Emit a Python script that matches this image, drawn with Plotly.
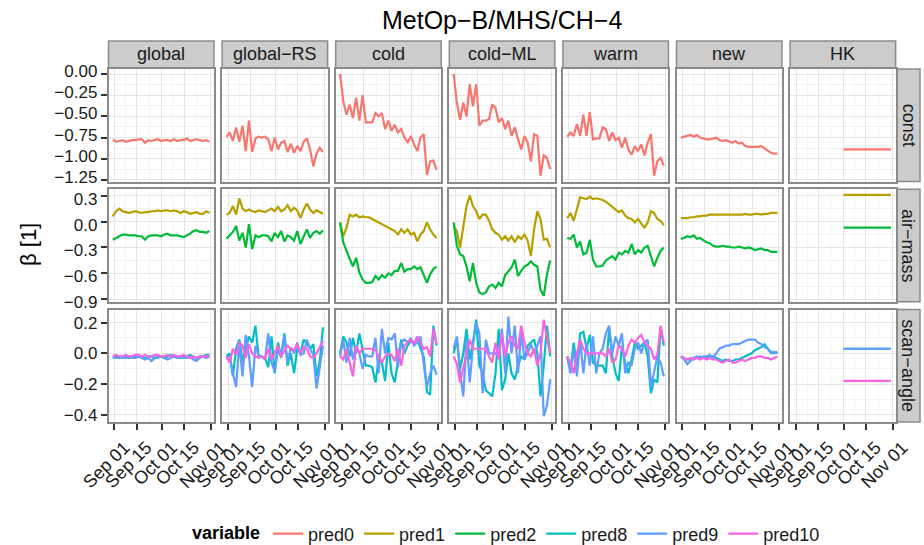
import plotly.graph_objects as go
import pandas as pd

W, H = 924, 545

# ---------------- data ----------------
facets = ["global", "global−RS", "cold", "cold−ML", "warm", "new", "HK"]
groups = ["const", "air−mass", "scan−angle"]
group_preds = [["pred0"], ["pred1", "pred2"], ["pred8", "pred9", "pred10"]]
preds = ["pred0", "pred1", "pred2", "pred8", "pred9", "pred10"]
pred_colors = ["#F8766D", "#B79F00", "#00BA38", "#00BFC4", "#619CFF", "#F564E3"]

dates = pd.date_range("2013-08-31", "2013-10-31", periods=31)
hk_dates = pd.to_datetime(["2013-10-01", "2013-10-31"])

# const (pred0)
global_pred0 = [-0.77, -0.80, -0.79, -0.78, -0.80, -0.79, -0.78, -0.78, -0.77, -0.77, -0.81, -0.78, -0.79, -0.78, -0.77, -0.79,
                -0.78, -0.78, -0.79, -0.77, -0.79, -0.78, -0.78, -0.76, -0.79, -0.78, -0.77, -0.78, -0.79, -0.78, -0.80]
globalRS_pred0 = [-0.74, -0.69, -0.79, -0.63, -0.80, -0.61, -0.91, -0.55, -0.92, -0.76, -0.74, -0.75, -0.74, -0.77, -0.91, -0.75,
                  -0.89, -0.81, -0.79, -0.92, -0.82, -0.93, -0.85, -0.91, -0.80, -0.76, -0.89, -1.09, -0.94, -0.87, -0.92]
cold_pred0 = [0.00, -0.32, -0.48, -0.36, -0.52, -0.28, -0.55, -0.25, -0.57, -0.57, -0.57, -0.46, -0.50, -0.46, -0.65, -0.55,
              -0.67, -0.60, -0.69, -0.65, -0.75, -0.81, -0.73, -0.83, -0.91, -0.75, -0.71, -1.19, -1.03, -1.02, -1.13]
coldML_pred0 = [0.00, -0.34, -0.54, -0.34, -0.50, -0.12, -0.38, -0.12, -0.61, -0.55, -0.55, -0.53, -0.36, -0.40, -0.57, -0.52,
                -0.65, -0.55, -0.73, -0.63, -0.77, -0.89, -0.73, -0.81, -1.03, -0.71, -0.73, -1.20, -0.96, -0.99, -1.12]
warm_pred0 = [-0.74, -0.69, -0.73, -0.59, -0.73, -0.48, -0.73, -0.45, -0.77, -0.76, -0.76, -0.63, -0.65, -0.79, -0.69, -0.78,
              -0.75, -0.87, -0.75, -0.89, -0.95, -0.85, -0.91, -0.83, -0.96, -0.81, -0.71, -1.20, -1.03, -0.99, -1.08]
new_pred0 = [-0.75, -0.74, -0.73, -0.72, -0.74, -0.72, -0.75, -0.76, -0.77, -0.77, -0.76, -0.75, -0.78, -0.79, -0.78, -0.80,
             -0.81, -0.79, -0.82, -0.81, -0.85, -0.86, -0.86, -0.86, -0.86, -0.85, -0.88, -0.90, -0.93, -0.94, -0.94]
hk_pred0 = [-0.89, -0.89]

# air-mass (pred1, pred2)
global_pred1 = [0.06, 0.12, 0.15, 0.12, 0.11, 0.10, 0.11, 0.12, 0.11, 0.10, 0.11, 0.11, 0.12, 0.12, 0.13, 0.12,
                0.13, 0.13, 0.12, 0.13, 0.12, 0.10, 0.12, 0.11, 0.09, 0.10, 0.11, 0.09, 0.09, 0.12, 0.10]
global_pred2 = [-0.21, -0.19, -0.17, -0.15, -0.15, -0.16, -0.16, -0.16, -0.17, -0.17, -0.21, -0.17, -0.16, -0.16, -0.16, -0.17,
                -0.15, -0.14, -0.16, -0.16, -0.16, -0.17, -0.18, -0.16, -0.14, -0.11, -0.10, -0.12, -0.12, -0.13, -0.11]
globalRS_pred1 = [0.08, 0.10, 0.18, 0.08, 0.27, 0.15, 0.12, 0.14, 0.12, 0.11, 0.13, 0.12, 0.11, 0.13, 0.15, 0.12,
                  0.17, 0.12, 0.14, 0.19, 0.12, 0.16, 0.13, 0.04, 0.14, 0.21, 0.14, 0.10, 0.13, 0.11, 0.09]
globalRS_pred2 = [-0.20, -0.16, -0.12, -0.05, -0.22, -0.13, -0.30, -0.03, -0.32, -0.16, -0.18, -0.16, -0.16, -0.17, -0.23, -0.13,
                  -0.18, -0.11, -0.23, -0.16, -0.18, -0.22, -0.11, -0.26, -0.18, -0.09, -0.19, -0.13, -0.11, -0.14, -0.10]
cold_pred1 = [-0.01, -0.17, -0.07, 0.08, 0.06, 0.08, 0.05, 0.06, 0.05, 0.05, 0.03, 0.01, -0.01, -0.03, -0.05, -0.07,
              -0.09, -0.11, -0.15, -0.09, -0.13, -0.09, -0.15, -0.13, -0.23, -0.15, -0.11, -0.01, -0.09, -0.15, -0.19]
cold_pred2 = [-0.01, -0.24, -0.34, -0.44, -0.52, -0.42, -0.59, -0.67, -0.71, -0.71, -0.70, -0.63, -0.67, -0.62, -0.65, -0.60,
              -0.62, -0.57, -0.57, -0.48, -0.58, -0.55, -0.55, -0.52, -0.55, -0.53, -0.62, -0.71, -0.61, -0.55, -0.52]
coldML_pred1 = [-0.05, -0.11, -0.30, -0.03, 0.18, 0.30, 0.18, 0.12, 0.03, 0.08, 0.08, 0.01, -0.09, -0.13, -0.15, -0.21,
                -0.17, -0.22, -0.17, -0.24, -0.17, -0.20, -0.15, -0.22, -0.40, -0.09, 0.12, 0.03, -0.21, -0.20, -0.30]
coldML_pred2 = [-0.01, -0.28, -0.38, -0.40, -0.52, -0.69, -0.48, -0.71, -0.82, -0.84, -0.82, -0.75, -0.73, -0.77, -0.71, -0.75,
                -0.62, -0.57, -0.53, -0.44, -0.63, -0.57, -0.52, -0.50, -0.46, -0.50, -0.52, -0.79, -0.86, -0.61, -0.45]
warm_pred1 = [0.04, 0.10, 0.01, 0.14, 0.28, 0.27, 0.26, 0.29, 0.26, 0.27, 0.26, 0.25, 0.23, 0.20, 0.17, 0.14,
              0.11, 0.13, 0.07, 0.04, 0.03, -0.01, 0.03, -0.02, -0.07, -0.01, 0.12, 0.10, 0.03, 0.01, -0.04]
warm_pred2 = [-0.19, -0.20, -0.15, -0.30, -0.23, -0.38, -0.36, -0.21, -0.44, -0.52, -0.52, -0.51, -0.45, -0.42, -0.40, -0.44,
              -0.36, -0.38, -0.34, -0.36, -0.26, -0.38, -0.33, -0.36, -0.30, -0.28, -0.40, -0.52, -0.42, -0.34, -0.30]
new_pred1 = [0.04, 0.04, 0.04, 0.05, 0.05, 0.06, 0.06, 0.07, 0.07, 0.08, 0.08, 0.08, 0.08, 0.08, 0.08, 0.08,
             0.08, 0.08, 0.08, 0.08, 0.09, 0.08, 0.08, 0.09, 0.09, 0.08, 0.09, 0.09, 0.10, 0.10, 0.10]
new_pred2 = [-0.20, -0.19, -0.17, -0.18, -0.16, -0.20, -0.19, -0.22, -0.24, -0.25, -0.28, -0.29, -0.29, -0.28, -0.29, -0.29,
             -0.30, -0.30, -0.29, -0.30, -0.31, -0.30, -0.31, -0.33, -0.32, -0.31, -0.33, -0.33, -0.35, -0.35, -0.35]
hk_pred1 = [0.31, 0.31]
hk_pred2 = [-0.07, -0.07]

# scan-angle (pred8, pred9, pred10)
global_pred8 = [-0.03, -0.02, -0.03, -0.02, -0.02, -0.03, -0.02, -0.02, -0.01, -0.02, -0.03, -0.02, -0.02, -0.03, -0.02, -0.02,
                -0.03, -0.02, -0.01, -0.02, -0.02, -0.03, -0.02, -0.02, -0.01, -0.02, -0.03, -0.02, -0.02, -0.01, -0.01]
global_pred9 = [-0.02, -0.03, -0.02, -0.03, -0.03, -0.02, -0.03, -0.03, -0.02, -0.03, -0.04, -0.03, -0.05, -0.03, -0.03, -0.02,
                -0.03, -0.04, -0.03, -0.02, -0.03, -0.02, -0.03, -0.03, -0.02, -0.04, -0.05, -0.03, -0.02, -0.03, -0.02]
global_pred10 = [-0.02, -0.01, -0.02, -0.02, -0.01, -0.02, -0.02, -0.01, -0.01, -0.02, -0.01, -0.02, -0.02, -0.01, -0.01, -0.02,
                 -0.02, -0.01, -0.02, -0.01, -0.02, -0.02, -0.01, -0.02, -0.03, -0.02, -0.03, -0.02, -0.02, -0.02, -0.02]
globalRS_pred8 = [-0.02, 0.00, -0.15, 0.03, 0.09, -0.05, 0.03, 0.11, 0.07, 0.18, -0.02, -0.02, -0.03, -0.09, 0.11, -0.13,
                  0.07, -0.02, 0.13, -0.08, 0.00, -0.13, 0.03, 0.00, 0.09, 0.06, 0.03, 0.06, -0.15, -0.05, 0.17]
globalRS_pred9 = [-0.04, -0.02, -0.13, -0.22, 0.07, -0.15, 0.12, -0.02, -0.22, 0.05, -0.02, -0.02, -0.04, 0.13, -0.06, -0.12,
                  0.03, -0.03, 0.11, -0.06, 0.04, 0.00, 0.07, -0.01, 0.00, 0.09, 0.03, -0.01, -0.23, -0.08, 0.05]
globalRS_pred10 = [-0.02, -0.06, 0.03, -0.01, 0.07, 0.05, -0.03, 0.06, 0.00, -0.02, -0.03, -0.02, -0.03, 0.03, -0.04, 0.00,
                   0.05, -0.02, 0.02, 0.05, 0.03, 0.02, 0.06, 0.00, 0.04, 0.03, -0.02, -0.03, 0.00, 0.04, 0.08]
cold_pred8 = [0.00, 0.11, 0.07, -0.02, 0.10, 0.00, 0.13, 0.03, -0.08, -0.08, -0.09, -0.19, -0.04, -0.06, -0.18, 0.07,
              -0.13, -0.19, -0.04, 0.09, 0.00, 0.05, 0.08, 0.07, 0.10, 0.03, -0.02, -0.25, -0.27, 0.18, 0.05]
cold_pred9 = [-0.02, 0.09, -0.06, 0.10, -0.04, 0.05, 0.00, -0.10, -0.01, -0.02, -0.02, 0.10, -0.13, 0.16, 0.00, 0.10,
              0.09, 0.13, -0.09, 0.07, 0.09, 0.07, 0.10, 0.05, 0.07, 0.11, -0.07, -0.22, -0.13, -0.08, -0.14]
cold_pred10 = [-0.02, -0.04, 0.03, -0.07, -0.15, 0.05, 0.00, 0.03, 0.03, 0.03, 0.03, 0.02, -0.02, -0.06, -0.02, 0.00,
               -0.01, -0.05, 0.03, -0.08, 0.05, 0.07, 0.09, 0.06, 0.11, 0.07, 0.03, 0.04, -0.02, 0.16, 0.06]
coldML_pred8 = [0.00, 0.09, -0.10, 0.00, 0.16, -0.04, 0.07, 0.22, -0.08, -0.13, -0.24, -0.26, -0.28, -0.13, 0.16, -0.24,
                -0.17, 0.00, -0.13, -0.17, -0.08, -0.02, -0.04, 0.05, 0.07, 0.09, 0.00, -0.28, -0.08, 0.18, -0.02]
coldML_pred9 = [0.03, 0.11, -0.13, -0.28, 0.09, -0.19, 0.05, 0.20, 0.13, -0.26, 0.09, 0.00, 0.00, 0.00, -0.02, 0.16,
                -0.13, 0.24, 0.00, 0.18, -0.13, 0.13, -0.04, 0.00, 0.06, 0.00, 0.05, 0.11, -0.41, -0.34, -0.17]
coldML_pred10 = [-0.02, -0.07, -0.19, -0.10, -0.02, 0.09, 0.03, 0.03, 0.03, 0.03, 0.03, -0.02, -0.06, 0.07, -0.04, 0.13,
                 -0.02, 0.07, 0.11, 0.05, 0.03, 0.18, 0.07, 0.00, -0.02, 0.03, -0.08, 0.00, 0.22, 0.10, 0.00]
warm_pred8 = [-0.02, -0.11, 0.07, -0.08, 0.13, 0.14, 0.03, 0.12, -0.06, -0.08, -0.08, -0.08, -0.13, 0.16, -0.02, -0.13,
              -0.18, 0.05, -0.06, -0.13, -0.04, 0.07, 0.03, 0.05, 0.07, -0.02, -0.26, -0.17, -0.19, 0.17, 0.05]
warm_pred9 = [-0.02, -0.13, 0.03, -0.15, 0.09, -0.13, 0.07, -0.08, 0.11, -0.13, 0.00, 0.03, 0.13, 0.18, 0.00, 0.11,
              0.05, 0.13, -0.13, -0.06, -0.08, 0.03, 0.07, 0.00, 0.07, 0.09, -0.22, -0.11, -0.02, -0.06, -0.15]
warm_pred10 = [-0.02, -0.06, -0.13, 0.00, 0.09, 0.03, 0.00, 0.00, 0.00, 0.00, 0.00, 0.00, -0.02, 0.03, -0.06, -0.04,
               0.05, 0.03, -0.02, 0.05, 0.09, 0.07, 0.10, 0.12, 0.07, 0.05, 0.03, -0.04, -0.01, 0.18, 0.07]
new_pred8 = [-0.02, -0.03, -0.04, -0.04, -0.03, -0.03, -0.02, -0.03, -0.03, -0.02, -0.02, -0.03, -0.04, -0.05, -0.04, -0.05,
             -0.05, -0.04, -0.04, -0.03, -0.02, -0.01, 0.00, 0.02, 0.03, 0.04, 0.06, 0.03, 0.01, 0.00, 0.01]
new_pred9 = [-0.02, -0.04, -0.07, -0.05, -0.03, -0.02, -0.03, -0.02, -0.02, -0.01, -0.03, 0.00, 0.03, 0.04, 0.05, 0.05,
             0.06, 0.06, 0.06, 0.07, 0.08, 0.09, 0.09, 0.09, 0.07, 0.06, 0.04, 0.03, 0.00, 0.01, 0.00]
new_pred10 = [-0.02, -0.03, -0.04, -0.03, -0.04, -0.03, -0.04, -0.03, -0.04, -0.03, -0.04, -0.04, -0.05, -0.06, -0.05, -0.04,
              -0.06, -0.06, -0.05, -0.04, -0.05, -0.04, -0.03, -0.03, -0.02, -0.02, -0.03, -0.03, -0.04, -0.03, -0.02]
hk_pred8 = [0.03, 0.03]
hk_pred9 = [0.03, 0.03]
hk_pred10 = [-0.18, -0.18]

series = {
    "global": {"pred0": global_pred0, "pred1": global_pred1, "pred2": global_pred2,
               "pred8": global_pred8, "pred9": global_pred9, "pred10": global_pred10},
    "global−RS": {"pred0": globalRS_pred0, "pred1": globalRS_pred1, "pred2": globalRS_pred2,
                  "pred8": globalRS_pred8, "pred9": globalRS_pred9, "pred10": globalRS_pred10},
    "cold": {"pred0": cold_pred0, "pred1": cold_pred1, "pred2": cold_pred2,
             "pred8": cold_pred8, "pred9": cold_pred9, "pred10": cold_pred10},
    "cold−ML": {"pred0": coldML_pred0, "pred1": coldML_pred1, "pred2": coldML_pred2,
                "pred8": coldML_pred8, "pred9": coldML_pred9, "pred10": coldML_pred10},
    "warm": {"pred0": warm_pred0, "pred1": warm_pred1, "pred2": warm_pred2,
             "pred8": warm_pred8, "pred9": warm_pred9, "pred10": warm_pred10},
    "new": {"pred0": new_pred0, "pred1": new_pred1, "pred2": new_pred2,
            "pred8": new_pred8, "pred9": new_pred9, "pred10": new_pred10},
    "HK": {"pred0": hk_pred0, "pred1": hk_pred1, "pred2": hk_pred2,
           "pred8": hk_pred8, "pred9": hk_pred9, "pred10": hk_pred10},
}

x_ticks = ["2013-09-01", "2013-09-15", "2013-10-01", "2013-10-15", "2013-11-01"]
x_ticklabels = ["Sep 01", "Sep 15", "Oct 01", "Oct 15", "Nov 01"]
x_minor = ["2013-08-25", "2013-09-08", "2013-09-23", "2013-10-08", "2013-10-23", "2013-11-08"]
y_ticks = [[0.0, -0.25, -0.5, -0.75, -1.0, -1.25], [0.3, 0.0, -0.3, -0.6, -0.9], [0.2, 0.0, -0.2, -0.4]]
y_ticklabels = [["0.00", "−0.25", "−0.50", "−0.75", "−1.00", "−1.25"], ["0.3", "0.0", "−0.3", "−0.6", "−0.9"],
                ["0.2", "0.0", "−0.2", "−0.4"]]
y_minor = [[0.125, -0.125, -0.375, -0.625, -0.875, -1.125], [0.45, 0.15, -0.15, -0.45, -0.75], [0.3, 0.1, -0.1, -0.3]]
y_ranges = [[-1.268, 0.059], [-0.929, 0.374], [-0.448, 0.285]]
x_range = ["2013-08-28 06:00", "2013-11-02 22:00"]

# ---------------- layout geometry (pixels) ----------------
col_left0, col_w, col_step = 108.5, 105.5, 113.6
row_top0, row_h, row_step = 69.0, 112.5, 120.3
strip_top, strip_bot = 41.0, 68.0
rstrip_l, rstrip_r = 897.0, 920.0
y_label_shift = [-3, 3, 0]

FONT = "Liberation Sans, Arial, Helvetica, sans-serif"
TXT = "#1a1a1a"
GRID = "#e6e6e6"
MINOR = "#f4f4f4"
BORDER = "#8a8a8a"

def px(x):
    return x / W

def py(y):
    return 1 - y / H

fig = go.Figure()
color_of = dict(zip(preds, pred_colors))
shown = set()
layout_axes = {}
shapes = []
annotations = []

for r, grp in enumerate(groups):
    for c, fac in enumerate(facets):
        k = r * 7 + c + 1
        xa = "x" if k == 1 else f"x{k}"
        ya = "y" if k == 1 else f"y{k}"
        L = col_left0 + c * col_step
        T = row_top0 + r * row_step
        xd = [px(L), px(L + col_w)]
        yd = [py(T + row_h), py(T)]
        layout_axes["xaxis" if k == 1 else f"xaxis{k}"] = dict(
            domain=xd, anchor=ya, type="date", range=x_range, automargin=False,
            tickmode="array", tickvals=x_ticks, ticktext=x_ticklabels,
            showticklabels=(r == 2), tickangle=-45, ticklabelshift=10,
            ticks="outside" if r == 2 else "", ticklen=6, tickwidth=2, tickcolor="#333333",
            tickfont=dict(size=18, color=TXT, family=FONT),
            showgrid=True, gridcolor=GRID, gridwidth=1,
            minor=dict(tickmode="array", tickvals=x_minor, showgrid=True, gridcolor=MINOR, gridwidth=1, ticks=""),
            showline=True, mirror=True, linecolor=BORDER, linewidth=1.5,
            zeroline=False, fixedrange=True,
        )
        layout_axes["yaxis" if k == 1 else f"yaxis{k}"] = dict(
            domain=yd, anchor=xa, range=y_ranges[r], automargin=False,
            tickmode="array", tickvals=y_ticks[r], ticktext=y_ticklabels[r],
            showticklabels=(c == 0), ticklabelshift=y_label_shift[r],
            ticks="outside" if c == 0 else "", ticklen=6, tickwidth=2, tickcolor="#333333",
            tickfont=dict(size=17, color=TXT, family=FONT),
            showgrid=True, gridcolor=GRID, gridwidth=1,
            minor=dict(tickmode="array", tickvals=y_minor[r], showgrid=True, gridcolor=MINOR, gridwidth=1, ticks=""),
            showline=True, mirror=True, linecolor=BORDER, linewidth=1.5,
            zeroline=False, fixedrange=True,
        )
        xs = hk_dates if fac == "HK" else dates
        for p in group_preds[r]:
            fig.add_trace(go.Scatter(
                x=xs, y=series[fac][p], mode="lines", name=p,
                line=dict(color=color_of[p], width=2.2),
                legendgroup=p, showlegend=(p not in shown),
                xaxis=xa, yaxis=ya, hoverinfo="skip",
            ))
            shown.add(p)

# top strips
for c, fac in enumerate(facets):
    L = col_left0 + c * col_step
    shapes.append(dict(type="rect", xref="paper", yref="paper",
                       x0=px(L), x1=px(L + col_w), y0=py(strip_bot), y1=py(strip_top),
                       fillcolor="#cccccc", line=dict(color=BORDER, width=1.5), layer="below"))
    annotations.append(dict(text=fac, xref="paper", yref="paper",
                            x=px(L + col_w / 2), y=py((strip_top + strip_bot) / 2),
                            showarrow=False, xanchor="center", yanchor="middle",
                            font=dict(size=18, color=TXT, family=FONT)))
# right strips
for r, grp in enumerate(groups):
    T = row_top0 + r * row_step
    shapes.append(dict(type="rect", xref="paper", yref="paper",
                       x0=px(rstrip_l), x1=px(rstrip_r), y0=py(T + row_h), y1=py(T),
                       fillcolor="#cccccc", line=dict(color=BORDER, width=1.5), layer="below"))
    annotations.append(dict(text=grp, xref="paper", yref="paper",
                            x=px((rstrip_l + rstrip_r) / 2), y=py(T + row_h / 2),
                            showarrow=False, textangle=90, xanchor="center", yanchor="middle",
                            font=dict(size=18, color=TXT, family=FONT)))

# title and y-axis title
annotations.append(dict(text="MetOp−B/MHS/CH−4", xref="paper", yref="paper",
                        x=px(502), y=py(20), showarrow=False, xanchor="center", yanchor="middle",
                        font=dict(size=25, color="#000000", family=FONT)))
annotations.append(dict(text="β [1]", xref="paper", yref="paper",
                        x=px(29), y=py(245), showarrow=False, textangle=-90,
                        xanchor="center", yanchor="middle",
                        font=dict(size=22, color="#000000", family=FONT)))

fig.update_layout(
    width=W, height=H,
    margin=dict(l=0, r=0, t=0, b=0, autoexpand=False),
    paper_bgcolor="white", plot_bgcolor="white",
    font=dict(family=FONT, color=TXT),
    shapes=shapes, annotations=annotations,
    showlegend=True,
    legend=dict(orientation="h", x=px(190), xanchor="left", y=py(534), yanchor="middle",
                font=dict(size=18, color=TXT, family=FONT),
                title=dict(text="<b>variable</b>", side="left", font=dict(size=18, color="#000000", family=FONT)),
                itemwidth=30, bgcolor="rgba(0,0,0,0)", tracegroupgap=0),
    **layout_axes,
)

fig.write_html("out.html")
